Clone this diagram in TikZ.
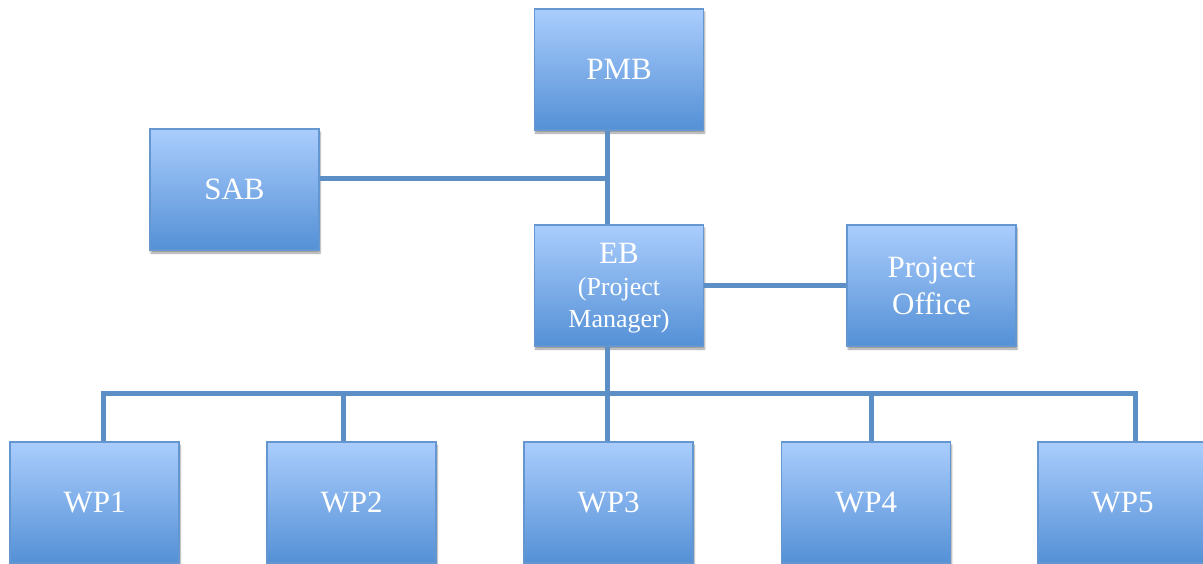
\documentclass[tikz,border=0pt]{standalone}
\usepackage{fontspec}
\setmainfont{Liberation Serif}
\usetikzlibrary{shadows.blur}
\definecolor{boxtop}{RGB}{170,205,253}
\definecolor{boxbot}{RGB}{84,144,214}
\definecolor{boxedge}{RGB}{100,150,208}
\definecolor{linkc}{RGB}{92,143,198}
\begin{document}
\begin{tikzpicture}[x=1pt,y=-1pt,
  orgbox/.style={draw=boxedge, line width=1.2pt, top color=boxtop, bottom color=boxbot,
    minimum width=169pt, minimum height=121pt, inner sep=0pt, text=white,
    font=\fontsize{31}{35}\selectfont, align=center,
    blur shadow={shadow xshift=1pt, shadow yshift=-3pt, shadow blur steps=6, shadow opacity=40}},
  link/.style={draw=linkc, line width=5pt}]
\useasboundingbox (0,0) rectangle (1203,563);
\clip (0,0) rectangle (1203,563);
\node[orgbox] (pmb) at (619,69.5) {PMB};
\node[orgbox] (sab) at (234.5,189.5) {SAB};
\node[orgbox, label={[text=white, align=center, inner sep=0pt, yshift=-3pt, font=\fontsize{31}{35}\selectfont]center:EB\\[-3pt]{\fontsize{26}{31}\selectfont (Project}\\[-3pt]{\fontsize{26}{31}\selectfont Manager)}}] (eb) at (619,285.5) {};
\node[orgbox, font=\fontsize{31}{37}\selectfont] (po) at (931.5,285.5) {Project\\Office};
\node[orgbox] (wp1) at (94.5,502.5) {WP1};
\node[orgbox] (wp2) at (351.5,502.5) {WP2};
\node[orgbox] (wp3) at (608.5,502.5) {WP3};
\node[orgbox] (wp4) at (866,502.5) {WP4};
\node[orgbox] (wp5) at (1122.5,502.5) {WP5};
\coordinate (j1) at (607,178);
\coordinate (bl) at (103,393);
\coordinate (br) at (1135,393);
\draw[link] (pmb.south -| j1) -- (eb.north -| j1);
\draw[link] (sab.east |- j1) -- (j1);
\draw[link] (eb.east |- po.west) -- (po.west);
\draw[link] (eb.south -| j1) -- (j1 |- bl);
\draw[link] (wp1.north -| bl) -- (bl) -- (br) -- (wp5.north -| br);
\draw[link] (wp2.north -| 343,0) -- (343,393);
\draw[link] (wp3.north -| j1) -- (j1 |- bl);
\draw[link] (wp4.north -| 871,0) -- (871,393);
\end{tikzpicture}
\end{document}
